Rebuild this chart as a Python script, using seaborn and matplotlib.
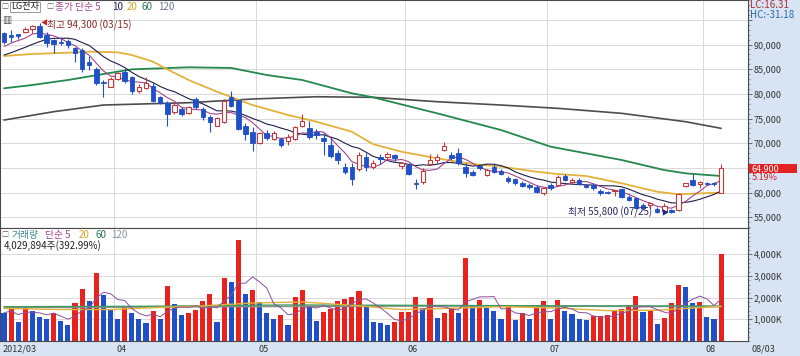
import numpy as np
import pandas as pd
import matplotlib
matplotlib.use("Agg")
import matplotlib.pyplot as plt
import matplotlib.transforms as mtransforms
from matplotlib.patches import Rectangle
from matplotlib.ticker import FixedLocator, MultipleLocator, FuncFormatter
import seaborn as sns

sns.set_theme(style="white")
plt.rcParams["font.family"] = ["Noto Sans CJK KR", "DejaVu Sans"]
plt.rcParams["axes.unicode_minus"] = False

# ---------------- data (LG전자 daily, 2012-03-09 .. 2012-08-03) ----------------
opens = [92270, 91900, 92070, 92530, 93080, 93700, 91900, 90900, 90400, 90770,
         89230, 88890, 86500, 84970, 82470, 81450, 82950, 84490, 83350, 80640,
         81130, 81590, 79300, 78210, 76400, 76870, 76200, 78890, 76870, 75370,
         73490, 74360, 79420, 78760, 73490, 72330, 70100, 72010, 70800, 70920,
         70510, 70800, 73490, 73020, 72330, 71000, 69640, 67950, 65130, 65130,
         64700, 67270, 65260, 67270, 67270, 67610, 65300, 65590, 62000, 62200,
         65790, 66600, 68630, 67610, 68080, 65260, 64230, 65390, 63560, 65260,
         64440, 62900, 62750, 62000, 61540, 61200, 59850, 61540, 61540, 63360,
         62200, 62550, 61540, 61540, 60320, 60200, 60300, 60720, 59170, 58840,
         57480, 57480, 56610, 56200, 56400, 56470, 61330, 62550, 61670, 61900,
         61900, 60000]
highs = [92500, 92900, 92200, 93500, 94000, 94300, 92500, 91100, 91500, 91100,
         89400, 89200, 87600, 85400, 82900, 83500, 84500, 85000, 83700, 81900,
         83500, 82300, 79600, 78500, 78300, 77300, 77600, 79400, 77400, 75800,
         75400, 79000, 80500, 79000, 74000, 73200, 72300, 72700, 72400, 71300,
         71900, 73500, 76000, 74500, 72900, 72000, 71000, 68600, 65900, 65900,
         68200, 68000, 66700, 67800, 68300, 67900, 66300, 66000, 62700, 65000,
         67800, 67900, 70300, 68300, 69000, 65900, 64500, 65800, 64800, 65700,
         64800, 63300, 63000, 62300, 61900, 61500, 61100, 61900, 63500, 63800,
         63000, 62900, 61700, 61900, 60700, 60300, 60600, 61000, 59500, 59200,
         57800, 58100, 57000, 57900, 56600, 59900, 62000, 63700, 62300, 62200,
         62100, 65700]
lows = [90200, 90600, 91200, 92300, 92400, 91300, 89400, 88200, 89900, 89300,
        86400, 84500, 84800, 81800, 79400, 81400, 82800, 82300, 80000, 80200,
        81000, 78400, 77900, 73500, 75900, 75600, 76000, 76900, 74800, 72300,
        73400, 74000, 77300, 72600, 70600, 68400, 69900, 70600, 70600, 69300,
        69600, 70600, 73300, 70900, 70900, 67700, 67000, 65800, 63800, 61500,
        64300, 64300, 64800, 65800, 66600, 66500, 64700, 63500, 60800, 61800,
        65600, 66000, 68500, 66600, 65500, 63200, 63300, 64500, 63300, 64000,
        63500, 62000, 61600, 61100, 60800, 59900, 59600, 60600, 61300, 62300,
        61800, 61500, 61000, 60600, 59600, 59700, 59400, 59000, 58300, 56600,
        56500, 56800, 55900, 56000, 55800, 56300, 61200, 61400, 61000, 61500,
        61400, 59900]
closes = [90600, 91500, 91720, 93080, 93750, 91600, 90250, 90100, 90300, 89900,
          88220, 84970, 85850, 82140, 82140, 82950, 84160, 82670, 80640, 81450,
          82140, 78610, 78090, 75920, 77740, 75920, 77270, 77270, 75370, 74360,
          75170, 78610, 77540, 72820, 71870, 70100, 72010, 71000, 72010, 69580,
          71200, 73220, 74560, 71330, 71660, 70500, 67410, 66600, 64230, 62690,
          67610, 65260, 66060, 66740, 67810, 66940, 66060, 63760, 61740, 64440,
          66600, 67270, 69440, 66940, 65930, 64030, 63560, 64900, 64570, 64230,
          63760, 62410, 61880, 61330, 61200, 60180, 60870, 60870, 63220, 62550,
          62550, 61740, 61200, 60870, 59980, 60000, 60500, 59170, 58500, 56810,
          56810, 57950, 56130, 57300, 56100, 59710, 61880, 61540, 62200, 61800,
          61700, 64900]
volumes_k = [1300, 1460, 890, 1610, 1400, 1120, 1010, 1280, 920, 720,
             1740, 2380, 1860, 3120, 2120, 1430, 1030, 1610, 1300, 1010,
             840, 1400, 1030, 2550, 1700, 1180, 1300, 1430, 1840, 2170,
             890, 2920, 2700, 4650, 2150, 2350, 1780, 1280, 1030, 1210,
             740, 2040, 2350, 1550, 920, 1320, 1460, 1840, 1940, 2010,
             2290, 1630, 890, 840, 740, 860, 1320, 1350, 2010, 1510,
             1970, 1070, 1300, 1510, 1300, 3840, 1630, 1890, 1510, 1380,
             1010, 1610, 970, 1280, 1010, 1630, 1840, 1010, 1890, 1400,
             1240, 1010, 970, 1150, 1160, 1210, 1400, 1470, 1640, 2070,
             1320, 1400, 780, 1070, 1740, 2580, 2500, 1740, 1780, 1120,
             1025, 4029.894]

ma5_lead = [89560, 90300, 90800, 91300]
ma10_lead = [87870, 88340, 88890, 89430, 90040, 90570, 91050, 91250, 91250]
ma20_idx = [0, 4, 9, 12, 16, 18, 21, 23, 26, 30, 35, 40, 44, 49, 52, 56, 61, 66, 70, 75, 78, 82, 87, 92, 95, 98, 101]
ma20_val = [87670, 88080, 88340, 88550, 88420, 87870, 86520, 84970, 82810, 80440, 77740, 75720, 74360, 72330,
            69800, 68280, 66940, 65790, 65260, 64230, 63760, 63360, 61880, 60180, 59650, 59850, 59980]
ma60_idx = [0, 4, 9, 14, 18, 26, 32, 37, 42, 49, 52, 61, 70, 77, 87, 93, 96, 101]
ma60_val = [81130, 81800, 82810, 84020, 84970, 85380, 85250, 83820, 82810, 80110, 79300, 76060, 72680,
            69300, 66600, 64570, 63900, 63360]
ma120_idx = [0, 7, 14, 26, 35, 44, 52, 61, 70, 78, 87, 96, 101]
ma120_val = [74700, 76390, 77740, 78210, 78960, 79420, 79300, 78410, 77740, 77070, 76060, 74360, 73020]
vma20_idx = [0, 8, 15, 22, 28, 35, 42, 50, 56, 62, 70, 78, 85, 92, 101]
vma20_val = [1500, 1450, 1450, 1550, 1620, 1750, 1800, 1620, 1450, 1500, 1580, 1520, 1400, 1420, 1600]
vma60_idx = [0, 20, 40, 60, 80, 101]
vma60_val = [1580, 1600, 1660, 1640, 1620, 1610]
vma120_idx = [0, 20, 40, 60, 80, 101]
vma120_val = [1540, 1560, 1590, 1610, 1600, 1580]

month_labels = ["2012/03", "04", "05", "06", "07", "08"]
month_start = [0, 16, 36, 57, 77, 99]
last_date = "08/03"
price_ticks = [55000, 60000, 65000, 70000, 75000, 80000, 85000, 90000, 95000]
vol_ticks = [1000, 2000, 3000, 4000]

# ---------------- derived ----------------
N = len(closes)
idx = np.arange(N)
df = pd.DataFrame({"i": idx, "open": opens, "high": highs, "low": lows,
                   "close": closes, "vol": volumes_k})
df["vdir"] = ["down"] + ["up" if volumes_k[k] > volumes_k[k - 1] else "down" for k in range(1, N)]
ma5 = df["close"].rolling(5).mean().to_numpy()
ma5[:len(ma5_lead)] = ma5_lead
ma10 = df["close"].rolling(10).mean().to_numpy()
ma10[:len(ma10_lead)] = ma10_lead
vma5 = df["vol"].rolling(5, min_periods=1).mean().to_numpy()

RED = "#e8231d"
BLUE = "#1f50c8"
CANDLE_RED = "#c23a3a"
STRIP = "#d8e4f3"
GRID = "#d9d9d9"
C5, C10, C20, C60, C120 = "#a0458f", "#1e1e4a", "#e2b23a", "#23894b", "#4d4d4d"

W, H = 800, 356
fig = plt.figure(figsize=(8, 3.56), dpi=100, facecolor="white")


def fx(x):
    return x / W


def fy(y):
    return 1 - y / H


fig.patches.append(Rectangle((fx(748), 0), 1 - fx(748), 1, transform=fig.transFigure,
                             facecolor=STRIP, edgecolor="none", zorder=-5))
fig.patches.append(Rectangle((0, 0), 1, 15 / H, transform=fig.transFigure,
                             facecolor=STRIP, edgecolor="none", zorder=-5))

axp = fig.add_axes([0, fy(228), fx(748), 228 / H])
axv = fig.add_axes([0, fy(341), fx(748), 113 / H])

XL = (-4 / 7.1, (748 - 4) / 7.1)
bounds = [m - 0.5 for m in month_start]

last = closes[-1]
pct = (closes[-1] / closes[-2] - 1) * 100

# ---------------- price panel ----------------
sns.lineplot(x=ma120_idx, y=ma120_val, ax=axp, color=C120, lw=1.2, zorder=2)
sns.lineplot(x=ma60_idx, y=ma60_val, ax=axp, color=C60, lw=1.3, zorder=2)
sns.lineplot(x=ma20_idx, y=ma20_val, ax=axp, color=C20, lw=1.3, zorder=2)
sns.lineplot(x=idx, y=ma10, ax=axp, color=C10, lw=0.8, zorder=2)
sns.lineplot(x=idx, y=ma5, ax=axp, color=C5, lw=0.8, zorder=2)

o = df["open"].to_numpy(); c = df["close"].to_numpy()
up = c >= o
bot = np.minimum(o, c)
hgt = np.maximum(np.abs(c - o), 120)
axp.vlines(idx[up], df["low"][up], df["high"][up], colors=CANDLE_RED, lw=0.8, zorder=3)
axp.vlines(idx[~up], df["low"][~up], df["high"][~up], colors=BLUE, lw=0.8, zorder=3)
axp.bar(idx[up], hgt[up], bottom=bot[up], width=0.64, facecolor="white",
        edgecolor=CANDLE_RED, lw=0.8, zorder=4)
axp.bar(idx[~up], hgt[~up], bottom=bot[~up], width=0.64, facecolor=BLUE,
        edgecolor=BLUE, lw=0.6, zorder=4)

axp.set_xlim(*XL)
axp.set_ylim(52832, 99014)
axp.yaxis.tick_right()
axp.yaxis.set_major_locator(FixedLocator(price_ticks))
axp.yaxis.set_minor_locator(MultipleLocator(1000))
# the top label sits under the LC/HC readout and the one at the last price under its tag
axp.yaxis.set_major_formatter(FuncFormatter(
    lambda v, p: "" if (v >= 95000 or abs(v - last) < 1500) else f"{int(v):,}"))
axp.xaxis.set_major_locator(FixedLocator(bounds))
axp.tick_params(axis="x", length=0, labelbottom=False)
axp.tick_params(axis="y", which="major", direction="out", length=3, width=0.6, color="#555",
                pad=1, labelsize=6.5, labelcolor="#333", right=True, left=False)
axp.tick_params(axis="y", which="minor", direction="out", length=1.5, width=0.5, color="#777", right=True, left=False)
axp.grid(True, color=GRID, lw=0.7)
axp.set_axisbelow(True)
axp.set_xlabel(""); axp.set_ylabel("")

# high / low annotations
i_hi = int(np.argmax(highs)); hi = highs[i_hi]
i_lo = int(np.argmin(lows)); lo = lows[i_lo]
axp.annotate("◀", xy=(i_hi, hi), xytext=(0.5, -0.3), textcoords="offset points",
             ha="left", va="center", fontsize=5, color="#d42020", zorder=6)
axp.annotate(f"최고 {hi:,} (03/15)", xy=(i_hi, hi), xytext=(5.6, -1.3), textcoords="offset points",
             ha="left", va="center", fontsize=7, color="#8a2a2a", zorder=6)
axp.annotate("▶", xy=(i_lo, lo), xytext=(-2.5, 0.2), textcoords="offset points",
             ha="right", va="center", fontsize=5, color="#1a2a8a", zorder=6)
axp.annotate(f"최저 {lo:,} (07/25)", xy=(i_lo, lo), xytext=(-13.8, 0.7), textcoords="offset points",
             ha="right", va="center", fontsize=7, color="#26265e", zorder=6)

# last price tag
blend = mtransforms.blended_transform_factory(axp.transAxes, axp.transData)
px2v = 1 / 0.004937
axp.add_patch(Rectangle((1.0 + 1 / 748, last - 4.8 * px2v), 48 / 748, 9.6 * px2v, transform=blend,
                        facecolor="#e42222", edgecolor="none", clip_on=False, zorder=7))
axp.text(1.0 + 4 / 748, last, f"{last:,}", transform=blend, ha="left", va="center",
         fontsize=6.5, color="white", zorder=8, clip_on=False)
axp.text(1.0 + 4 / 748, last - 8.6 * px2v, f"{pct:.2f}%", transform=blend, ha="left", va="center",
         fontsize=6.5, color="#d42020", zorder=8, clip_on=False)

# ---------------- volume panel ----------------
sns.barplot(data=df, x="i", y="vol", hue="vdir", palette={"up": RED, "down": BLUE},
            dodge=False, width=0.72, saturation=1, legend=False, errorbar=None, ax=axv,
            linewidth=0)
sns.lineplot(x=vma120_idx, y=vma120_val, ax=axv, color="#8c8c8c", lw=1.0)
sns.lineplot(x=vma60_idx, y=vma60_val, ax=axv, color="#3d9a62", lw=1.0)
sns.lineplot(x=vma20_idx, y=vma20_val, ax=axv, color=C20, lw=1.0)
sns.lineplot(x=idx, y=vma5, ax=axv, color="#8e4f9e", lw=0.7)

axv.set_xlim(*XL)
axv.set_ylim(0, 113 / 21.7 * 1000)
axv.yaxis.tick_right()
axv.yaxis.set_major_locator(FixedLocator(vol_ticks))
axv.yaxis.set_minor_locator(MultipleLocator(200))
axv.yaxis.set_major_formatter(FuncFormatter(lambda v, p: f"{int(v):,}K"))
axv.xaxis.set_major_locator(FixedLocator(bounds))
axv.xaxis.set_major_formatter(FuncFormatter(lambda v, p: ""))
axv.tick_params(axis="x", direction="out", length=10, width=0.6, color="#9aa7b6")
axv.tick_params(axis="y", which="major", direction="out", length=3, width=0.6, color="#555",
                pad=1, labelsize=6.5, labelcolor="#333", right=True, left=False)
axv.tick_params(axis="y", which="minor", direction="out", length=1.5, width=0.5, color="#777", right=True, left=False)
axv.grid(True, color=GRID, lw=0.7)
axv.set_axisbelow(True)
axv.set_xlabel(""); axv.set_ylabel("")

xblend = mtransforms.blended_transform_factory(axv.transData, axv.transAxes)
for pos, lab in zip(bounds, month_labels):
    axv.text(pos + 0.3, -8 / 113, lab, transform=xblend, ha="left", va="center",
             fontsize=6.5, color="#333", clip_on=False)

for ax in (axp, axv):
    for s in ax.spines.values():
        s.set_color("#4a4a4a"); s.set_linewidth(0.8)

# ---------------- header texts ----------------
def ftxt(x, y, s, **kw):
    kw.setdefault("va", "center")
    kw.setdefault("ha", "left")
    fig.text(fx(x), fy(y), s, **kw)

ftxt(1.5, 7, "□", fontsize=5, color="#666")
ftxt(11, 7, "LG전자", fontsize=6.6, color="#222",
     bbox=dict(boxstyle="square,pad=0.1", fc="white", ec="#8a8a8a", lw=0.6))
ftxt(46.5, 7, "□", fontsize=5, color="#666")
ftxt(55, 7, "종가 단순 5", fontsize=7, color="#a0458f")
ftxt(112, 7, "10", fontsize=7, color="#1e1e5a")
ftxt(127, 7, "20", fontsize=7, color="#d4a625")
ftxt(141, 7, "60", fontsize=7, color="#2a6f5a")
ftxt(158, 7, "120", fontsize=7, color="#6d7b8a")
ftxt(2, 20.5, "▥", fontsize=7, color="#555", family=["DejaVu Sans"])

ftxt(1.5, 235, "□", fontsize=5, color="#666")
ftxt(12, 235, "거래량", fontsize=7, color="#3a8a8a")
ftxt(45, 235, "단순 5", fontsize=7, color="#a0458f")
ftxt(79, 235, "20", fontsize=7, color="#d4a625")
ftxt(95, 235, "60", fontsize=7, color="#2a6f5a")
ftxt(111, 235, "120", fontsize=7, color="#8a96a2")
ftxt(4, 246, "4,029,894주(392.99%)", fontsize=7, color="#222")

ftxt(750, 5, "LC:16.31", fontsize=7, color="#b03030")
ftxt(750, 15, "HC:-31.18", fontsize=7, color="#2a6aa0")
ftxt(752, 349, last_date, fontsize=6.5, color="#333")

fig.savefig("out.png", dpi=100, facecolor="white")
